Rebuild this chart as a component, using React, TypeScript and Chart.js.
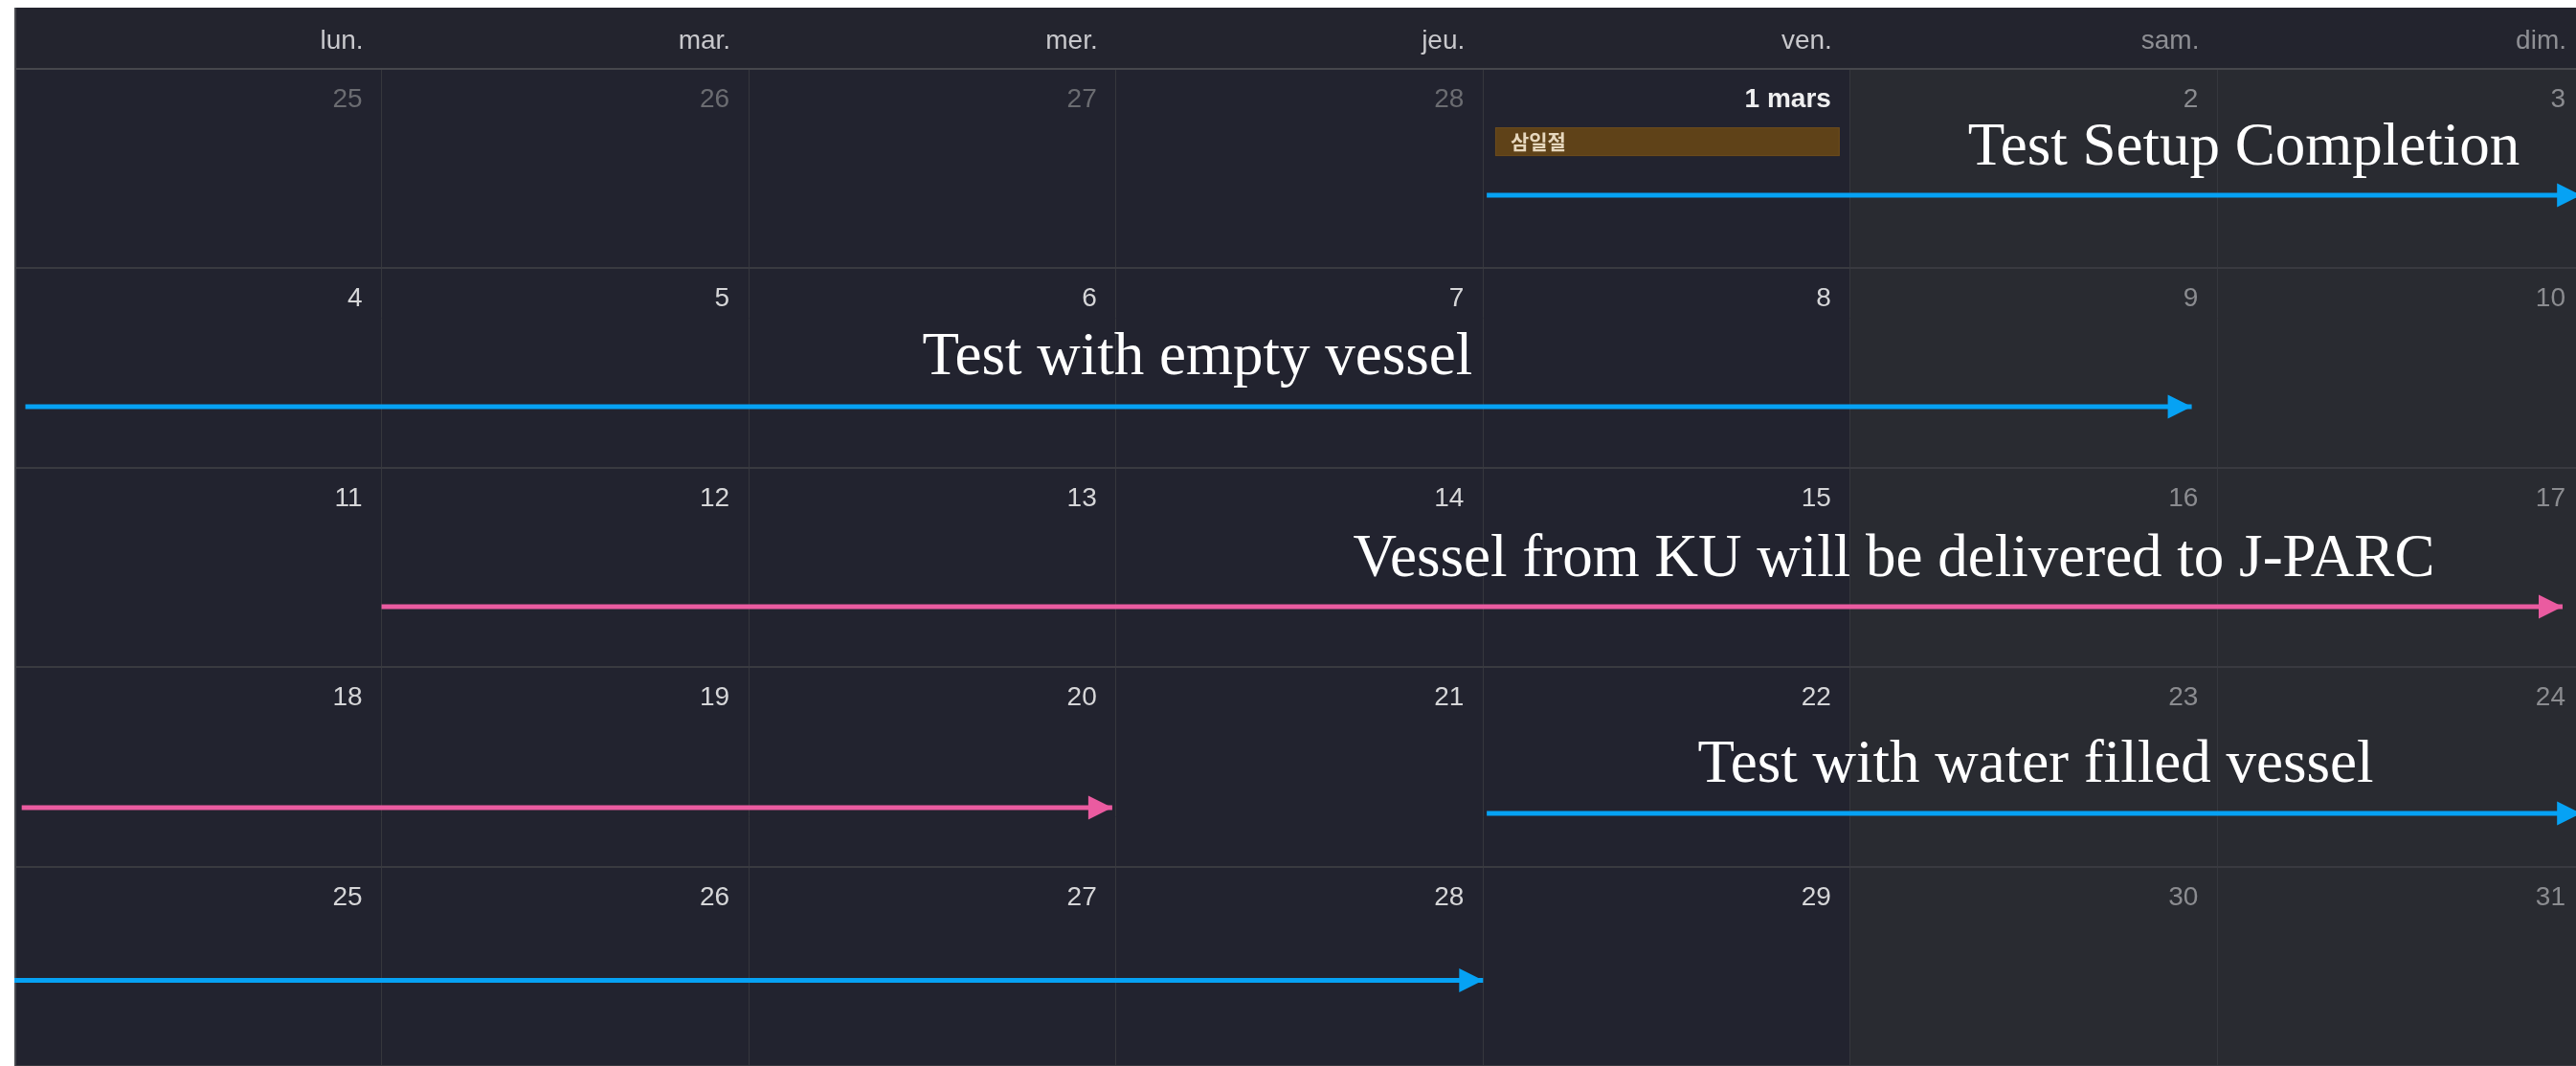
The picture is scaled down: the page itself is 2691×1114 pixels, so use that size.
import React, { useEffect, useRef } from 'react';
import { Chart, registerables } from 'chart.js';

Chart.register(...registerables);

// ---- data ----
const WEEKDAYS = ['lun.', 'mar.', 'mer.', 'jeu.', 'ven.', 'sam.', 'dim.'];
const WEEKEND_COLS = [5, 6];
const WEEK_COUNT = 5;
const WEEK_1 = ['25', '26', '27', '28', '1 mars', '2', '3'];
const WEEK_2 = ['4', '5', '6', '7', '8', '9', '10'];
const WEEK_3 = ['11', '12', '13', '14', '15', '16', '17'];
const WEEK_4 = ['18', '19', '20', '21', '22', '23', '24'];
const WEEK_5 = ['25', '26', '27', '28', '29', '30', '31'];
const DAY_LABELS = [WEEK_1, WEEK_2, WEEK_3, WEEK_4, WEEK_5];
const PREV_MONTH_CELLS = 4; // Feb 25-28 shown dimmed
const MONTH_START_LABEL = '1 mars';

const HOLIDAY_LABEL = '삼일절';
const HOLIDAY_X = [4.033, 4.971];
const HOLIDAY_Y = [0.293, 0.437];

const ARROW_ROW = [0.633, 1.694, 2.697, 3.704, 3.733, 4.571];
const ARROW_START = [4.01, 0.03, 1.0, 0.02, 4.01, 0.0];
const ARROW_END = [6.99, 5.93, 6.94, 2.99, 6.99, 4.0];
const ARROW_KIND = ['blue', 'blue', 'pink', 'pink', 'blue', 'blue'];

const LABEL_TEXT = [
  'Test Setup Completion',
  'Test with empty vessel',
  'Vessel from KU will be delivered to J-PARC',
  'Test with water filled vessel',
];
const LABEL_X = [6.072, 3.222, 5.119, 5.505];
const LABEL_Y = [0.48, 1.531, 2.542, 3.575];

// ---- styles ----
const COLORS: Record<string, string> = { blue: '#06a2f4', pink: '#ea5ba0' };
const HEADER_BG = '#23242e';
const WEEKDAY_BG = '#22232f';
const WEEKEND_BG = '#292b31';
const SANS = '"Liberation Sans", Arial, sans-serif';
const SERIF = '"Liberation Serif", "Times New Roman", serif';

const calendarPlugin = {
  id: 'calendarPlugin',
  beforeDraw(chart: any) {
    const { ctx, chartArea, width, height } = chart;
    const xs = chart.scales.x;
    const ys = chart.scales.y;
    ctx.save();
    ctx.fillStyle = HEADER_BG;
    ctx.fillRect(0, 0, width, height);
    for (let c = 0; c < 7; c++) {
      const x0 = xs.getPixelForValue(c);
      const x1 = xs.getPixelForValue(c + 1);
      ctx.fillStyle = WEEKEND_COLS.includes(c) ? WEEKEND_BG : WEEKDAY_BG;
      ctx.fillRect(x0, chartArea.top, x1 - x0, chartArea.bottom - chartArea.top);
      // header labels
      ctx.font = `28px ${SANS}`;
      ctx.textAlign = 'right';
      ctx.textBaseline = 'alphabetic';
      ctx.fillStyle = WEEKEND_COLS.includes(c) ? '#8e8f94' : '#c8c8cc';
      ctx.fillText(WEEKDAYS[c], x1 - 19, chartArea.top - 21);
    }
    ctx.restore();
  },
  beforeDatasetsDraw(chart: any) {
    const { ctx, chartArea } = chart;
    const xs = chart.scales.x;
    const ys = chart.scales.y;
    ctx.save();
    // left edge line
    ctx.fillStyle = '#48494f';
    ctx.fillRect(0, 0, 2, chartArea.bottom);
    // day numbers
    ctx.textAlign = 'right';
    ctx.textBaseline = 'alphabetic';
    for (let w = 0; w < WEEK_COUNT; w++) {
      const rowTop = ys.getPixelForValue(w);
      for (let c = 0; c < 7; c++) {
        const label = DAY_LABELS[w][c];
        const x1 = xs.getPixelForValue(c + 1);
        let color = '#d6d6d8';
        let weight = '';
        if (w === 0 && c < PREV_MONTH_CELLS) color = '#6b6c71';
        else if (WEEKEND_COLS.includes(c)) color = '#8b8c90';
        if (label === MONTH_START_LABEL) {
          color = '#efeff0';
          weight = 'bold ';
        }
        ctx.font = `${weight}28px ${SANS}`;
        ctx.fillStyle = color;
        ctx.fillText(label, x1 - 20, rowTop + 40);
      }
    }
    // holiday box
    const hx0 = xs.getPixelForValue(HOLIDAY_X[0]);
    const hx1 = xs.getPixelForValue(HOLIDAY_X[1]);
    const hy0 = ys.getPixelForValue(HOLIDAY_Y[0]);
    const hy1 = ys.getPixelForValue(HOLIDAY_Y[1]);
    ctx.fillStyle = '#5f4218';
    ctx.fillRect(hx0, hy0, hx1 - hx0, hy1 - hy0);
    ctx.strokeStyle = '#6c4c1d';
    ctx.lineWidth = 1;
    ctx.strokeRect(hx0 + 0.5, hy0 + 0.5, hx1 - hx0 - 1, hy1 - hy0 - 1);
    ctx.font = `bold 21px "Noto Sans CJK KR", sans-serif`;
    ctx.textAlign = 'left';
    ctx.textBaseline = 'middle';
    ctx.fillStyle = '#e6d7bd';
    ctx.fillText(HOLIDAY_LABEL, hx0 + 16, (hy0 + hy1) / 2);
    ctx.restore();
  },
  afterDatasetsDraw(chart: any) {
    const { ctx } = chart;
    const xs = chart.scales.x;
    const ys = chart.scales.y;
    ctx.save();
    chart.data.datasets.forEach((ds: any, i: number) => {
      const meta = chart.getDatasetMeta(i);
      const tip = meta.data[meta.data.length - 1];
      if (!tip) return;
      ctx.fillStyle = ds.borderColor;
      ctx.beginPath();
      ctx.moveTo(tip.x, tip.y);
      ctx.lineTo(tip.x - 25, tip.y - 12.5);
      ctx.lineTo(tip.x - 25, tip.y + 12.5);
      ctx.closePath();
      ctx.fill();
    });
    ctx.font = `63px ${SERIF}`;
    ctx.textAlign = 'center';
    ctx.textBaseline = 'alphabetic';
    ctx.fillStyle = '#ffffff';
    LABEL_TEXT.forEach((t, i) => {
      ctx.fillText(t, xs.getPixelForValue(LABEL_X[i]), ys.getPixelForValue(LABEL_Y[i]));
    });
    ctx.restore();
  },
};

export default function App() {
  const ref = useRef<HTMLCanvasElement | null>(null);
  useEffect(() => {
    if (!ref.current) return;
    const datasets = ARROW_ROW.map((row, i) => ({
      label: LABEL_TEXT[i] || `arrow ${i + 1}`,
      data: [
        { x: ARROW_START[i], y: row },
        { x: ARROW_END[i] - 0.03, y: row },
      ],
      borderColor: COLORS[ARROW_KIND[i]],
      backgroundColor: COLORS[ARROW_KIND[i]],
      borderWidth: 5,
      borderCapStyle: 'butt' as const,
      pointRadius: 0,
      pointHoverRadius: 0,
      fill: false,
      tension: 0,
      clip: false as any,
    }));
    // extend last point to the tip for arrowhead placement
    datasets.forEach((d, i) => {
      d.data.push({ x: ARROW_END[i], y: ARROW_ROW[i] });
    });
    const chart = new Chart(ref.current, {
      type: 'line',
      data: { datasets: datasets as any },
      options: {
        animation: false,
        responsive: false,
        maintainAspectRatio: false,
        events: [],
        layout: { padding: { top: 64, left: 0, right: 0, bottom: 0 } },
        plugins: { legend: { display: false }, tooltip: { enabled: false } },
        scales: {
          x: {
            type: 'linear',
            min: 0,
            max: 7,
            ticks: { display: false, stepSize: 1 },
            grid: {
              drawTicks: false,
              lineWidth: 1,
              color: (c: any) => (c.tick && (c.tick.value === 0 || c.tick.value === 7) ? 'rgba(0,0,0,0)' : '#36373d'),
            },
            border: { display: false },
          },
          y: {
            type: 'linear',
            min: 0,
            max: WEEK_COUNT,
            reverse: true,
            ticks: { display: false, stepSize: 1 },
            grid: {
              drawTicks: false,
              lineWidth: 2,
              color: (c: any) => (c.tick && c.tick.value === 0 ? '#46474c' : '#393a40'),
            },
            border: { display: false },
          },
        },
      },
      plugins: [calendarPlugin],
    });
    return () => chart.destroy();
  }, []);

  return (
    <div
      style={{
        position: 'fixed',
        left: 15,
        top: 8,
        width: 2676,
        height: 1106,
        overflow: 'hidden',
        background: HEADER_BG,
      }}
    >
      <canvas ref={ref} width={2685} height={1106} style={{ display: 'block' }} />
    </div>
  );
}
